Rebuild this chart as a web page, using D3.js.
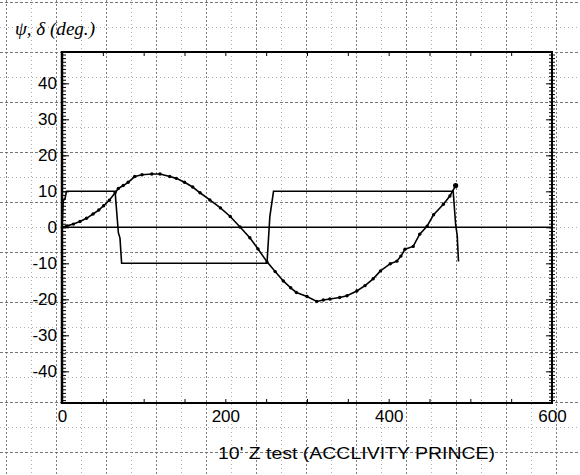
<!DOCTYPE html>
<html>
<head>
<meta charset="utf-8">
<script src="https://cdn.jsdelivr.net/npm/d3@7"></script>
<style>
  html, body { margin: 0; padding: 0; background: #fff; }
  svg { display: block; }
</style>
</head>
<body>
<svg id="chart" width="580" height="475"></svg>
<script>
// ---- data ----
const psiX = [0, 6, 14, 22, 30, 38, 45, 51, 58, 65, 69, 75, 81, 89, 98, 110, 120, 132, 140, 150, 160, 169, 181, 194, 206, 218, 230, 240, 251, 261, 271, 280, 287, 300, 312, 320, 328, 340, 349, 361, 371, 381, 390, 402, 410, 415, 420, 430, 438, 447, 455, 467, 475, 482];
const psiY = [0, 0.4, 0.9, 1.6, 2.5, 3.7, 4.8, 6.0, 7.5, 9.6, 10.8, 11.6, 12.5, 14.1, 14.6, 14.8, 14.8, 14.1, 13.6, 12.5, 11.2, 9.6, 7.6, 5.4, 3.0, 0.1, -2.9, -6.0, -9.6, -12.3, -14.9, -16.8, -18.1, -19.2, -20.6, -20.2, -19.9, -19.5, -19.0, -17.7, -16.2, -14.3, -12.1, -10.1, -9.4, -8.0, -6.1, -5.3, -1.9, 0.3, 3.5, 6.4, 8.7, 11.6];
const deltaX = [0, 1.5, 3.5, 5.5, 65, 69, 71, 73, 251, 254.5, 259, 479, 482, 484, 485.5];
const deltaY = [0, 7.5, 7.8, 10, 10, -1.5, -3, -10, -10, 3, 10, 10, 0.8, -2.4, -9.5];
const yTickValues = [40, 30, 20, 10, 0, -10, -20, -30, -40];
const xTickValues = [0, 200, 400, 600];
const yLabel = "ψ, δ (deg.)";
const xLabel = "10' Z test (ACCLIVITY PRINCE)";

// ---- layout ----
const W = 580, H = 475;
const pL = 62, pR = 552, pT = 52, pB = 403;
const svg = d3.select("#chart");

const x = d3.scaleLinear().domain([0, 600]).range([pL, pR]);
const y = d3.scaleLinear().domain([-48.8, 48.7]).range([pB, pT]);

// ---- graph paper background ----
const grid = svg.append("g");
for (let gy = 2; gy < H; gy += 25) {
  const heavy = Math.round((gy - 2) / 25) % 2 === 0;
  grid.append("line").attr("x1", 0).attr("x2", W).attr("y1", gy + 0.5).attr("y2", gy + 0.5)
    .attr("stroke", heavy ? "#666" : "#9a9a9a").attr("stroke-width", heavy ? 0.9 : 0.8)
    .attr("stroke-dasharray", heavy ? "3,2" : "1,3");
}
for (let gx = 6; gx < W; gx += 25) {
  const heavy = Math.round((gx - 6) / 25) % 2 === 0;
  grid.append("line").attr("y1", 0).attr("y2", H).attr("x1", gx + 0.5).attr("x2", gx + 0.5)
    .attr("stroke", heavy ? "#707070" : "#9a9a9a").attr("stroke-width", heavy ? 0.9 : 0.8)
    .attr("stroke-dasharray", heavy ? "2,2" : "1,3");
}

// ---- axes ----
const minorY = d3.range(-48, 49, 1);
const minor50 = d3.range(0, 601, 50);

svg.append("g").attr("transform", `translate(${pL},0)`)
  .call(d3.axisLeft(y).tickValues(minorY).tickSize(-4).tickFormat(""))
  .call(g => g.select(".domain").remove());
svg.append("g").attr("transform", `translate(${pL},0)`)
  .call(d3.axisLeft(y).tickValues(yTickValues).tickSize(-7).tickPadding(5).tickFormat(d => d < 0 ? "-" + Math.abs(d) : d))
  .call(g => g.select(".domain").remove())
  .call(g => g.selectAll("text").attr("font-family", "Liberation Sans, Arial, sans-serif").attr("font-size", 17).attr("fill", "#000"));

svg.append("g").attr("transform", `translate(${pR},0)`)
  .call(d3.axisRight(y).tickValues(minorY).tickSize(3).tickFormat(""))
  .call(g => g.select(".domain").remove());
svg.append("g").attr("transform", `translate(${pR},0)`)
  .call(d3.axisRight(y).tickValues(minorY).tickSize(-3).tickFormat(""))
  .call(g => g.select(".domain").remove());
svg.append("g").attr("transform", `translate(${pR},0)`)
  .call(d3.axisRight(y).tickValues(yTickValues).tickSize(-6).tickFormat(""))
  .call(g => g.select(".domain").remove());

svg.append("g").attr("transform", `translate(0,${pB})`)
  .call(d3.axisBottom(x).tickValues(minor50).tickSize(-4).tickFormat(""))
  .call(g => g.select(".domain").remove());
svg.append("g").attr("transform", `translate(0,${pB})`)
  .call(d3.axisBottom(x).tickValues(xTickValues).tickSize(0).tickPadding(7))
  .call(g => g.select(".domain").remove())
  .call(g => g.selectAll("text").attr("font-family", "Liberation Sans, Arial, sans-serif").attr("font-size", 17).attr("fill", "#000"));

svg.append("g").attr("transform", `translate(0,${pT})`)
  .call(d3.axisTop(x).tickValues(minor50).tickSize(-4).tickFormat(""))
  .call(g => g.select(".domain").remove());

svg.selectAll(".tick line").attr("stroke", "#000").attr("stroke-width", 1);

// frame
svg.append("line").attr("x1", pL).attr("x2", pL).attr("y1", pT - 1).attr("y2", pB + 1).attr("stroke", "#000").attr("stroke-width", 2.5);
svg.append("line").attr("x1", pR).attr("x2", pR).attr("y1", pT - 1).attr("y2", pB + 1).attr("stroke", "#000").attr("stroke-width", 2);
svg.append("line").attr("x1", pL).attr("x2", pR).attr("y1", pT).attr("y2", pT).attr("stroke", "#000").attr("stroke-width", 2);
svg.append("line").attr("x1", pL).attr("x2", pR).attr("y1", pB).attr("y2", pB).attr("stroke", "#000").attr("stroke-width", 2);

// zero line
svg.append("line").attr("x1", pL).attr("x2", pR).attr("y1", y(0)).attr("y2", y(0)).attr("stroke", "#000").attr("stroke-width", 1.6);

// ---- series ----
const line = d3.line().x(d => x(d[0])).y(d => y(d[1]));
const deltaData = deltaX.map((v, i) => [v, deltaY[i]]);
const psiData = psiX.map((v, i) => [v, psiY[i]]);

svg.append("path").datum(deltaData).attr("d", line).attr("fill", "none").attr("stroke", "#000").attr("stroke-width", 1.6);
svg.append("path").datum(psiData).attr("d", line).attr("fill", "none").attr("stroke", "#000").attr("stroke-width", 1.6);
svg.append("g").selectAll("circle").data(psiData.slice(1)).join("circle")
  .attr("cx", d => x(d[0])).attr("cy", d => y(d[1]))
  .attr("r", (d, i, n) => i === n.length - 1 ? 2.6 : 1.7).attr("fill", "#000");

// ---- labels ----
svg.append("text").attr("x", 15).attr("y", 35).text(yLabel)
  .attr("font-family", "Liberation Serif, DejaVu Serif, serif").attr("font-style", "italic")
  .attr("font-size", 19).attr("fill", "#000")
  .attr("textLength", 80).attr("lengthAdjust", "spacingAndGlyphs");
svg.append("text").attr("x", 218).attr("y", 459).text(xLabel)
  .attr("font-family", "Liberation Sans, Arial, sans-serif")
  .attr("font-size", 16).attr("fill", "#000")
  .attr("textLength", 277).attr("lengthAdjust", "spacingAndGlyphs");
</script>
</body>
</html>
